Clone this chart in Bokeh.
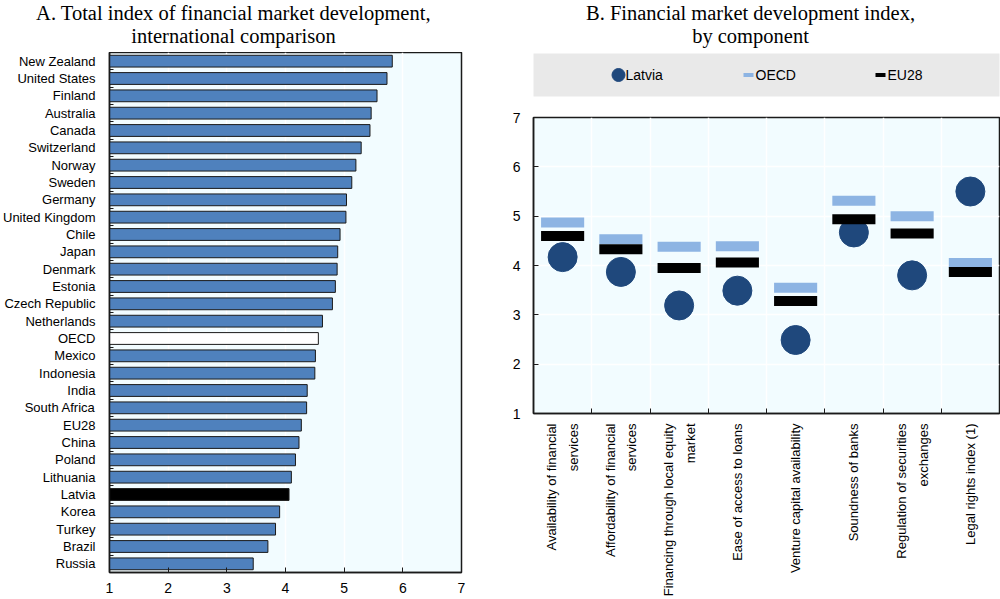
import math
from bokeh.plotting import figure
from bokeh.models import Range1d, FixedTicker
from bokeh.layouts import row, column
from bokeh.core.properties import value
from bokeh.embed import file_html
from bokeh.resources import INLINE

# ---------------- data ----------------
countries = ["New Zealand", "United States", "Finland", "Australia", "Canada", "Switzerland",
             "Norway", "Sweden", "Germany", "United Kingdom", "Chile", "Japan", "Denmark",
             "Estonia", "Czech Republic", "Netherlands", "OECD", "Mexico", "Indonesia", "India",
             "South Africa", "EU28", "China", "Poland", "Lithuania", "Latvia", "Korea", "Turkey",
             "Brazil", "Russia"]
total_index = [5.82, 5.73, 5.56, 5.46, 5.44, 5.29, 5.20, 5.13, 5.04, 5.03, 4.93, 4.89, 4.88,
               4.85, 4.80, 4.63, 4.56, 4.51, 4.50, 4.37, 4.36, 4.27, 4.23, 4.17, 4.10, 4.06,
               3.90, 3.83, 3.70, 3.45]

components = ["Availability of financial\nservices", "Affordability of financial\nservices",
              "Financing through local equity\nmarket", "Ease of access to loans",
              "Venture capital availability", "Soundness of banks",
              "Regulation of securities\nexchanges", "Legal rights index (1)"]
latvia = [4.17, 3.87, 3.19, 3.49, 2.49, 4.67, 3.80, 5.50]
oecd = [4.87, 4.53, 4.38, 4.39, 3.55, 5.31, 5.00, 4.05]
eu28 = [4.60, 4.33, 3.95, 4.06, 3.28, 4.94, 4.65, 3.87]

x_ticks = [1, 2, 3, 4, 5, 6, 7]
y_ticks = [1, 2, 3, 4, 5, 6, 7]

title_a = ["A. Total index of financial market development,", "international comparison"]
title_b = ["B. Financial market development index,", "by component"]
legend_labels = ["Latvia", "OECD", "EU28"]

# ---------------- styles ----------------
SANS = "Liberation Sans"
SERIF = "Liberation Serif"
BG = "#F2FCFF"
BAR = "#4F81BD"
DARKBLUE = "#1F487C"
LIGHTBLUE = "#8DB4E3"
FRAME = "#1a1a1a"

# ---------------- titles (one full-width strip) ----------------
top = figure(width=1000, height=52, output_backend="svg", toolbar_location=None,
             x_range=Range1d(0, 1000), y_range=Range1d(52, 0),
             min_border_left=0, min_border_right=0, min_border_top=0, min_border_bottom=0)
top.outline_line_color = None
top.background_fill_color = "white"
top.border_fill_color = "white"
top.axis.visible = False
top.grid.visible = False
top.text(x=[233, 233, 750, 750], y=[1, 24, 1, 24], text=title_a + title_b,
         text_font=value(SERIF), text_font_size="20.5px", text_align="center",
         text_baseline="top", text_color="black")

# ---------------- panel A ----------------
n = len(countries)
ypos = [n - 1 - i for i in range(n)]
colors = []
for c in countries:
    if c == "Latvia":
        colors.append("black")
    elif c == "OECD":
        colors.append("white")
    else:
        colors.append(BAR)

pa = figure(width=480, height=547, output_backend="svg", toolbar_location=None,
            x_range=Range1d(1, 7), y_range=Range1d(-0.5, n - 0.5),
            min_border_left=106, min_border_right=19, min_border_top=0, min_border_bottom=27)
pa.background_fill_color = BG
pa.border_fill_color = "white"
pa.outline_line_color = FRAME
pa.outline_line_width = 1.5

pa.hbar(y=ypos, left=1, right=total_index, height=0.68, fill_color=colors,
        line_color="#1a1a1a", line_width=1)

pa.xaxis.ticker = FixedTicker(ticks=x_ticks)
pa.xaxis.major_tick_in = 5
pa.xaxis.major_tick_out = 0
pa.xaxis.minor_tick_line_color = None
pa.xaxis.axis_line_color = FRAME
pa.xaxis.axis_line_width = 1.5
pa.xaxis.major_tick_line_color = FRAME
pa.xaxis.major_label_text_font = SANS
pa.xaxis.major_label_text_font_size = "14px"
pa.xaxis.major_label_text_color = "black"
pa.xaxis.major_label_standoff = 10

pa.yaxis.ticker = FixedTicker(ticks=ypos, minor_ticks=[k + 0.5 for k in range(n - 1)])
pa.yaxis.major_label_overrides = {ypos[i]: countries[i] for i in range(n)}
pa.yaxis.major_tick_line_color = None
pa.yaxis.minor_tick_in = 4
pa.yaxis.minor_tick_out = 0
pa.yaxis.minor_tick_line_color = FRAME
pa.yaxis.axis_line_color = FRAME
pa.yaxis.axis_line_width = 1.5
pa.yaxis.major_label_text_font = SANS
pa.yaxis.major_label_text_font_size = "13px"
pa.yaxis.major_label_text_color = "black"
pa.yaxis.major_label_standoff = 8

pa.xgrid.ticker = FixedTicker(ticks=x_ticks)
pa.xgrid.grid_line_color = "white"
pa.xgrid.grid_line_width = 1.5
pa.ygrid.grid_line_color = None

# ---------------- panel B legend ----------------
pl = figure(width=520, height=48, output_backend="svg", toolbar_location=None,
            x_range=Range1d(0, 466), y_range=Range1d(0, 43),
            min_border_left=53, min_border_right=1, min_border_top=1, min_border_bottom=4)
pl.background_fill_color = "#E9E9E9"
pl.border_fill_color = "white"
pl.outline_line_color = None
pl.axis.visible = False
pl.grid.visible = False

pl.scatter(x=[85], y=[21.5], size=13, marker="circle", fill_color=DARKBLUE, line_color=DARKBLUE)
pl.rect(x=[215], y=[21.5], width=10, height=4, fill_color=LIGHTBLUE, line_color=None)
pl.rect(x=[347], y=[21.5], width=10, height=4, fill_color="black", line_color=None)
pl.text(x=[92, 222, 354], y=[21.5, 21.5, 21.5], text=legend_labels,
        text_font=value(SANS), text_font_size="14px", text_baseline="middle",
        text_align="left", text_color="black")

# ---------------- panel B chart ----------------
m = len(components)
xc = [i + 0.5 for i in range(m)]

pb = figure(width=520, height=499, output_backend="svg", toolbar_location=None,
            x_range=Range1d(0, m), y_range=Range1d(1, 7),
            min_border_left=53, min_border_right=1, min_border_top=17, min_border_bottom=183)
pb.background_fill_color = BG
pb.border_fill_color = "white"
pb.outline_line_color = FRAME
pb.outline_line_width = 1.5

pb.scatter(x=xc, y=latvia, size=29, marker="circle", fill_color=DARKBLUE, line_color=DARKBLUE)
pb.rect(x=xc, y=oecd, width=0.74, height=10, height_units="screen",
        fill_color=LIGHTBLUE, line_color=None)
pb.rect(x=xc, y=eu28, width=0.74, height=10, height_units="screen",
        fill_color="black", line_color=None)

pb.xaxis.ticker = FixedTicker(ticks=xc, minor_ticks=list(range(1, m)))
pb.xaxis.major_label_overrides = {xc[i]: components[i] for i in range(m)}
pb.xaxis.major_label_orientation = math.pi / 2
pb.xaxis.major_tick_line_color = None
pb.xaxis.minor_tick_in = 5
pb.xaxis.minor_tick_out = 0
pb.xaxis.minor_tick_line_color = FRAME
pb.xaxis.axis_line_color = FRAME
pb.xaxis.axis_line_width = 1.5
pb.xaxis.major_label_text_font = SANS
pb.xaxis.major_label_text_font_size = "13px"
pb.xaxis.major_label_text_color = "black"
pb.xaxis.major_label_text_line_height = 1.45
pb.xaxis.major_label_standoff = 4

pb.yaxis.ticker = FixedTicker(ticks=y_ticks)
pb.yaxis.major_tick_in = 5
pb.yaxis.major_tick_out = 0
pb.yaxis.minor_tick_line_color = None
pb.yaxis.major_tick_line_color = FRAME
pb.yaxis.axis_line_color = FRAME
pb.yaxis.axis_line_width = 1.5
pb.yaxis.major_label_text_font = SANS
pb.yaxis.major_label_text_font_size = "14px"
pb.yaxis.major_label_text_color = "black"
pb.yaxis.major_label_standoff = 13

pb.xgrid.ticker = FixedTicker(ticks=list(range(1, m)))
pb.xgrid.grid_line_color = "white"
pb.xgrid.grid_line_width = 1.5
pb.ygrid.ticker = FixedTicker(ticks=y_ticks)
pb.ygrid.grid_line_color = "white"
pb.ygrid.grid_line_width = 1.5

layout = column(top, row(pa, column(pl, pb, spacing=0), spacing=0), spacing=0)

open("out.html", "w").write(file_html(layout, INLINE))
